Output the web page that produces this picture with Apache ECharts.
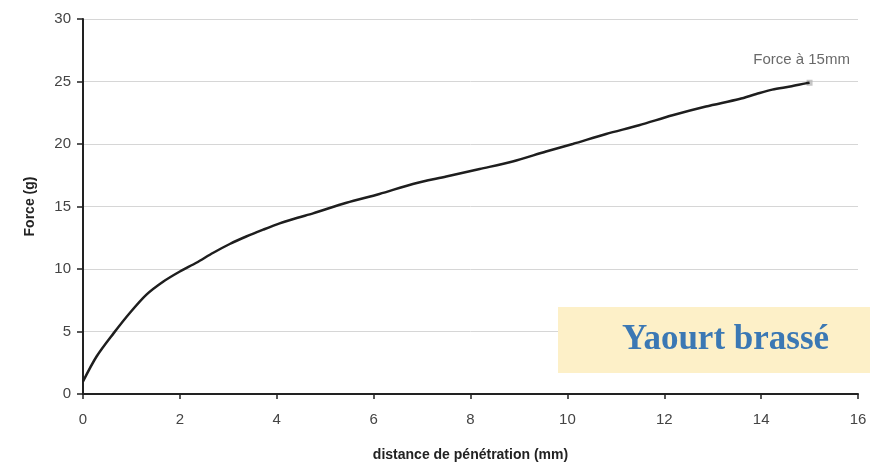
<!DOCTYPE html>
<html>
<head>
<meta charset="utf-8">
<script src="https://cdn.jsdelivr.net/npm/echarts@6/dist/echarts.min.js"></script>
<style>
html,body{margin:0;padding:0;background:#fff;}
#chart{width:874px;height:468px;}
</style>
</head>
<body>
<div id="chart"></div>
<script>
// distance de pénétration (mm)
const distance = [0, 0.28, 0.63, 0.97, 1.31, 1.66, 2.0, 2.34, 2.69, 3.03, 3.37, 3.72, 4.06, 4.43, 4.75, 5.44, 6.12, 6.81, 7.5, 8.19, 8.87, 9.56, 10.11, 10.8, 11.48, 12.17, 12.86, 13.55, 13.9, 14.23, 14.6, 14.92, 15.0];
// Force (g)
const force = [1.0, 3.0, 4.85, 6.5, 7.95, 9.0, 9.8, 10.5, 11.3, 12.0, 12.6, 13.15, 13.65, 14.1, 14.45, 15.3, 16.0, 16.8, 17.4, 18.0, 18.6, 19.4, 20.0, 20.8, 21.5, 22.3, 23.0, 23.6, 24.0, 24.35, 24.6, 24.85, 24.9];
const xTicks = [0, 2, 4, 6, 8, 10, 12, 14, 16];
const yTicks = [0, 5, 10, 15, 20, 25, 30];
const endLabel = 'Force à 15mm';
const boxLabel = 'Yaourt brassé';
const xName = 'distance de pénétration (mm)';
const yName = 'Force (g)';

const chart = echarts.init(document.getElementById('chart'), null, {renderer: 'canvas'});
const lineData = distance.map((d, i) => [d, force[i]]);
const font = 'Liberation Sans, Arial, sans-serif';
chart.setOption({
  animation: false,
  grid: {left: 83, right: 16, top: 19, bottom: 74},
  xAxis: {
    type: 'value', min: xTicks[0], max: xTicks[xTicks.length - 1], interval: 2,
    name: xName, nameLocation: 'middle', nameGap: 54,
    nameTextStyle: {fontFamily: font, fontSize: 14, fontWeight: 'bold', color: '#222'},
    axisLine: {lineStyle: {color: '#222', width: 2}},
    axisTick: {show: true, length: 5, lineStyle: {color: '#222', width: 1.5}},
    axisLabel: {fontFamily: font, fontSize: 15, color: '#444', margin: 18},
    splitLine: {show: false}
  },
  yAxis: {
    type: 'value', min: yTicks[0], max: yTicks[yTicks.length - 1], interval: 5,
    name: yName, nameLocation: 'middle', nameGap: 46, nameRotate: 90,
    nameTextStyle: {fontFamily: font, fontSize: 14, fontWeight: 'bold', color: '#222'},
    axisLine: {show: true, lineStyle: {color: '#222', width: 2}},
    axisTick: {show: true, length: 6, lineStyle: {color: '#222', width: 1.5}},
    axisLabel: {fontFamily: font, fontSize: 15, color: '#444', margin: 12},
    splitLine: {show: true, lineStyle: {color: '#d6d6d6', width: 1}}
  },
  series: [
    {
      type: 'line', data: lineData, showSymbol: false, smooth: 0.3,
      lineStyle: {color: '#1e1e1e', width: 2.5}
    },
    {
      type: 'scatter', data: [lineData[lineData.length - 1]],
      symbol: 'rect', symbolSize: 6,
      itemStyle: {color: '#b8b8b8'},
      label: {
        show: true, position: 'top', distance: 12, offset: [-8, 0],
        formatter: endLabel, fontFamily: font, fontSize: 15, color: '#444'
      }
    }
  ],
  graphic: [
    {
      type: 'rect', left: 558, top: 307,
      shape: {width: 312, height: 66},
      style: {fill: '#fdf0c8'}, z: 10
    },
    {
      type: 'text', left: 622, top: 322,
      style: {text: boxLabel, font: 'bold 35px "Liberation Serif", "DejaVu Serif", serif', fill: '#3b78b4'},
      z: 11
    }
  ]
});
</script>
</body>
</html>
